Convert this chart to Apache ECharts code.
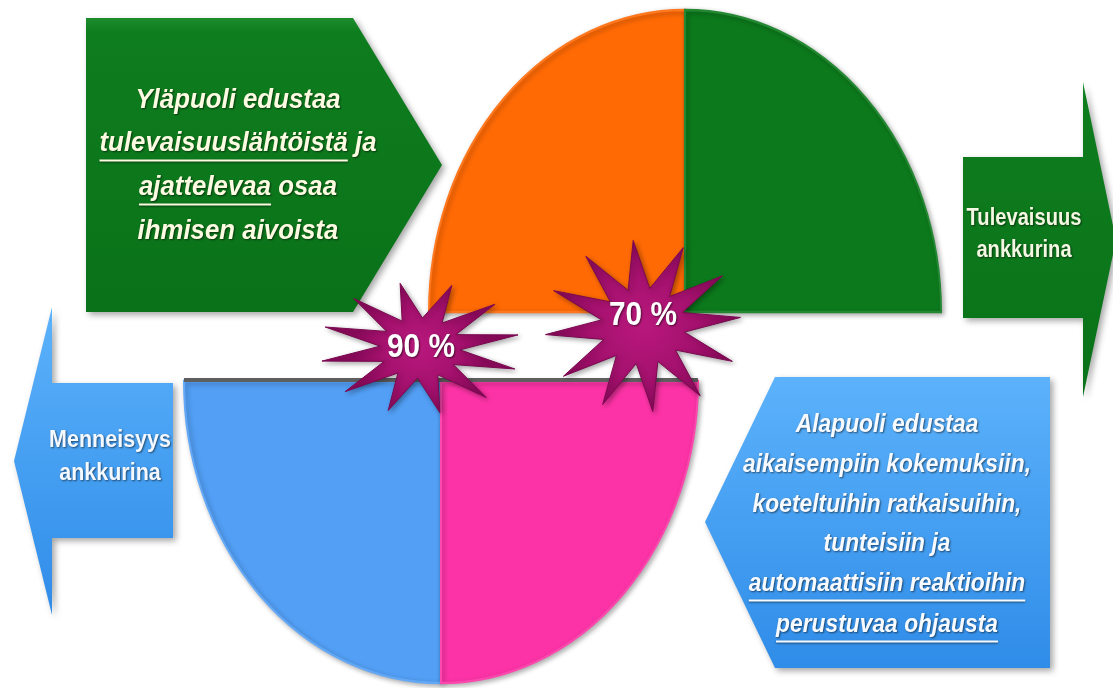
<!DOCTYPE html>
<html><head><meta charset="utf-8">
<script src="https://cdn.jsdelivr.net/npm/echarts@6/dist/echarts.min.js"></script>
<style>html,body{margin:0;padding:0;background:#fff}#c{width:1113px;height:688px}</style>
</head><body><div id="c"></div>
<script>
// ---- data ----
const upperHalfNames = ['Tulevaisuus (vasen)', 'Tulevaisuus (oikea)'];
const upperHalfShares = [50, 50];
const lowerHalfNames = ['Menneisyys (vasen)', 'Menneisyys (oikea)'];
const lowerHalfShares = [50, 50];
const badgeLabels = ['90 %', '70 %'];
const upperTextLines = ['Yläpuoli edustaa', 'tulevaisuuslähtöistä ja', 'ajattelevaa osaa', 'ihmisen aivoista'];
const upperUnderlined = ['tulevaisuuslähtöistä', 'ajattelevaa'];
const lowerTextLines = ['Alapuoli edustaa', 'aikaisempiin kokemuksiin,', 'koeteltuihin ratkaisuihin,', 'tunteisiin ja', 'automaattisiin reaktioihin', 'perustuvaa ohjausta'];
const lowerUnderlined = ['automaattisiin reaktioihin', 'perustuvaa ohjausta'];
const futureAnchorLines = ['Tulevaisuus', 'ankkurina'];
const pastAnchorLines = ['Menneisyys', 'ankkurina'];

// ---- layout / style ----
const FONT = '"Liberation Sans",Arial,sans-serif';
const UPPER = {cx: 685, cy: 312, rx: 256, ry: 302};
const LOWER = {cx: 441, cy: 381, rx: 257, ry: 302};
const upperColors = ['#ff6a05', '#0c7a1c'];
const lowerColors = ['#529ff5', '#fc33a6'];

const chart = echarts.init(document.getElementById('c'), null, {renderer: 'canvas'});
const mctx = document.createElement('canvas').getContext('2d');
function measure(text, font) {
  mctx.font = font;
  return mctx.measureText(text).width;
}

// quadrant table built from shares
function halfTable(shares, start, dir, half) {
  const total = shares.reduce((a, b) => a + b, 0);
  let a = start;
  return shares.map((v, i) => {
    const span = Math.PI * v / total * dir;
    const s = a; a += span;
    return [Math.min(s, a), Math.max(s, a), half, i];
  });
}
const quadData = halfTable(upperHalfShares, Math.PI, 1, 0)
  .concat(halfTable(lowerHalfShares, Math.PI, -1, 1));

const txtShadow = {textShadowColor: 'rgba(0,0,0,0.55)', textShadowBlur: 2, textShadowOffsetX: 1, textShadowOffsetY: 1};

// text block: condensed via scaleX so that reference line hits target width
function textBlock(lines, underlined, cx, ys, size, color, refLine, refWidth, italic) {
  const font = (italic ? 'italic ' : '') + 'bold ' + size + 'px ' + FONT;
  const sx = refWidth / measure(refLine, font);
  const els = [];
  lines.forEach((line, i) => {
    els.push({
      type: 'text', z: 20, x: cx, y: ys[i], scaleX: sx,
      style: Object.assign({text: line, fill: color, align: 'center', verticalAlign: 'middle', font: font}, txtShadow)
    });
    const W = measure(line, font) * sx;
    underlined.forEach(u => {
      const idx = line.indexOf(u);
      if (idx < 0) return;
      const pre = measure(line.slice(0, idx), font) * sx;
      const w = measure(u, font) * sx;
      const x0 = cx - W / 2 + pre;
      const y = Math.round(ys[i] + size * 0.6) + 0.5;
      els.push({
        type: 'line', z: 20,
        shape: {x1: x0, y1: y, x2: x0 + w, y2: y},
        style: {stroke: color, lineWidth: 2, shadowColor: 'rgba(0,0,0,0.5)', shadowBlur: 2, shadowOffsetY: 1}
      });
    });
  });
  return els;
}
function starPts(cx, cy, n, Rx, Ry, rx, ry, rot) {
  const pts = [];
  for (let i = 0; i < 2 * n; i++) {
    const a = rot + i * Math.PI / n;
    const outer = i % 2 === 0;
    pts.push([cx + (outer ? Rx : rx) * Math.cos(a), cy + (outer ? Ry : ry) * Math.sin(a)]);
  }
  return pts;
}
const starFill = {type: 'radial', x: 0.5, y: 0.5, r: 0.5,
  colorStops: [{offset: 0, color: '#b8187c'}, {offset: 0.6, color: '#a5116e'}, {offset: 1, color: '#8c0a5c'}]};
const starStyle = {fill: starFill, stroke: '#7a0850', lineWidth: 1, shadowColor: 'rgba(0,0,0,0.35)', shadowBlur: 5, shadowOffsetX: 2, shadowOffsetY: 2};
const shadow = {shadowColor: 'rgba(0,0,0,0.35)', shadowBlur: 6, shadowOffsetX: 3, shadowOffsetY: 3};
const greenGrad = {type: 'linear', x: 0, y: 0, x2: 0, y2: 1,
  colorStops: [{offset: 0, color: '#1d8c2c'}, {offset: 0.05, color: '#0e7d1e'}, {offset: 1, color: '#0a7219'}]};
const blueGrad = {type: 'linear', x: 0, y: 0, x2: 0, y2: 1,
  colorStops: [{offset: 0, color: '#5cb2fb'}, {offset: 1, color: '#2f8ce8'}]};

function badge(label, x, y) {
  const font = 'bold 34px ' + FONT;
  const sx = 68 / measure('90 %', font);
  return {type: 'text', z: 31, x: x, y: y, scaleX: sx,
    style: Object.assign({text: label, fill: '#fff', align: 'center', verticalAlign: 'middle', font: font}, txtShadow)};
}

const graphics = [
  {type: 'polygon', z: 1, shape: {points: [[86, 18], [353, 18], [442, 165], [353, 312], [86, 312]]},
    style: Object.assign({fill: greenGrad}, shadow)},
  {type: 'polygon', z: 1, shape: {points: [[963, 157], [1083, 157], [1083, 82], [1116, 240], [1083, 397], [1083, 318], [963, 318]]},
    style: Object.assign({fill: greenGrad}, shadow)},
  {type: 'polygon', z: 1, shape: {points: [[173, 383], [52, 383], [52, 307], [14, 461], [52, 615], [52, 538], [173, 538]]},
    style: Object.assign({fill: blueGrad}, shadow)},
  {type: 'polygon', z: 1, shape: {points: [[775, 377], [1050, 377], [1050, 668], [775, 668], [705, 522]]},
    style: Object.assign({fill: blueGrad}, shadow)},
  {type: 'rect', z: 3, shape: {x: LOWER.cx - LOWER.rx, y: LOWER.cy - 3, width: LOWER.rx * 2, height: 4},
    style: {fill: '#5f5f5f'}},
  {type: 'polygon', z: 30, shape: {points: starPts(420, 348, 12, 100, 66, 40, 30, -0.2)}, style: starStyle},
  {type: 'polygon', z: 30, shape: {points: starPts(643, 326, 12, 98, 86, 42, 38, -0.1)}, style: starStyle},
  badge(badgeLabels[0], 421, 348),
  badge(badgeLabels[1], 643, 316)
]
  .concat(textBlock(upperTextLines, upperUnderlined, 238, [100, 143, 187, 231], 28, '#fdfbe2', 'tulevaisuuslähtöistä ja', 277, true))
  .concat(textBlock(lowerTextLines, lowerUnderlined, 887, [425, 465, 505, 544, 584, 625], 26, '#f7fbff', 'aikaisempiin kokemuksiin,', 288, true))
  .concat(textBlock(futureAnchorLines, [], 1024, [219, 251], 23, '#f4f8e2', 'Tulevaisuus', 115, false))
  .concat(textBlock(pastAnchorLines, [], 110, [441, 474], 23, '#f4f8ff', 'Menneisyys', 122, false));

chart.setOption({
  backgroundColor: '#ffffff',
  animation: false,
  series: [{
    type: 'custom',
    coordinateSystem: 'none',
    z: 2,
    data: quadData,
    renderItem: function (params, api) {
      const s = api.value(0), e = api.value(1), half = api.value(2), k = api.value(3);
      const g = half === 0 ? UPPER : LOWER;
      const col = half === 0 ? upperColors[k] : lowerColors[k];
      return {
        type: 'sector', x: g.cx, y: g.cy, scaleY: g.ry / g.rx,
        shape: {cx: 0, cy: 0, r: g.rx, r0: 0, startAngle: s, endAngle: e, clockwise: true},
        style: {fill: col, stroke: echarts.color.lift(col, 0.1), lineWidth: 2,
          shadowColor: 'rgba(0,0,0,0.3)', shadowBlur: 5, shadowOffsetX: 2, shadowOffsetY: 2}
      };
    }
  }],
  graphic: {elements: graphics}
});
</script></body></html>
